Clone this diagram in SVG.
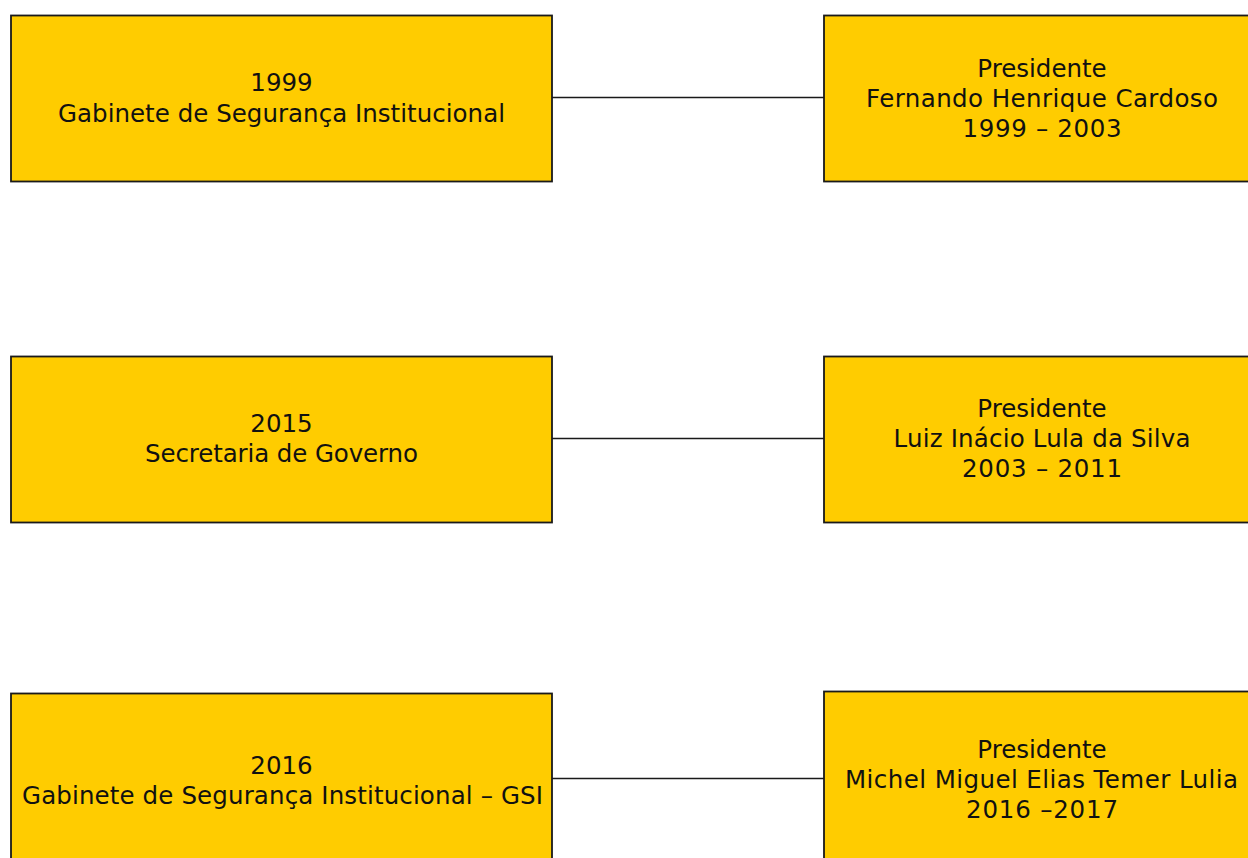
<svg xmlns="http://www.w3.org/2000/svg" width="1248" height="858" viewBox="0 0 1248 858">
<style>
.box{fill:#ffcc00;stroke:#1a1a1a;stroke-width:1.8}
.t{font-family:"DejaVu Sans","Liberation Sans",sans-serif;font-size:24.5px;fill:#111111;text-anchor:middle}
.c{stroke:#1a1a1a;stroke-width:1.6;fill:none}
</style>
<rect width="1248" height="858" fill="#ffffff"/>
<g id="connectors">
<line class="c" x1="552" y1="97.5" x2="824" y2="97.5"/>
<line class="c" x1="552" y1="438.5" x2="824" y2="438.5"/>
<line class="c" x1="552" y1="778.5" x2="824" y2="778.5"/>
</g>
<g id="n1999">
<rect class="box" x="11" y="15.5" width="541" height="166"/>
<text class="t" x="281.5" y="90.5">1999</text>
<text class="t" x="281.5" y="121.5" textLength="447" lengthAdjust="spacing">Gabinete de Segurança Institucional</text>
</g>
<g id="nFHC">
<rect class="box" x="824" y="15.5" width="436" height="166"/>
<text class="t" x="1042" y="76.5">Presidente</text>
<text class="t" x="1042" y="106.5" textLength="352" lengthAdjust="spacing">Fernando Henrique Cardoso</text>
<text class="t" x="1042" y="136.5" textLength="159" lengthAdjust="spacing">1999 – 2003</text>
</g>
<g id="n2015">
<rect class="box" x="11" y="356.5" width="541" height="166"/>
<text class="t" x="281.5" y="431.5">2015</text>
<text class="t" x="281.5" y="461.5" textLength="273" lengthAdjust="spacing">Secretaria de Governo</text>
</g>
<g id="nLula">
<rect class="box" x="824" y="356.5" width="436" height="166"/>
<text class="t" x="1042" y="416.5">Presidente</text>
<text class="t" x="1042" y="446.5" textLength="297" lengthAdjust="spacing">Luiz Inácio Lula da Silva</text>
<text class="t" x="1042" y="476.5" textLength="160" lengthAdjust="spacing">2003 – 2011</text>
</g>
<g id="n2016">
<rect class="box" x="11" y="693.5" width="541" height="172"/>
<text class="t" x="281.5" y="773.5">2016</text>
<text class="t" x="282.5" y="803.5" textLength="521" lengthAdjust="spacing">Gabinete de Segurança Institucional – GSI</text>
</g>
<g id="nTemer">
<rect class="box" x="824" y="691.5" width="436" height="176"/>
<text class="t" x="1042" y="757.5">Presidente</text>
<text class="t" x="1041.5" y="787.5" textLength="393" lengthAdjust="spacing">Michel Miguel Elias Temer Lulia</text>
<text class="t" x="1042" y="817.5" textLength="152" lengthAdjust="spacing">2016 –2017</text>
</g>
</svg>
